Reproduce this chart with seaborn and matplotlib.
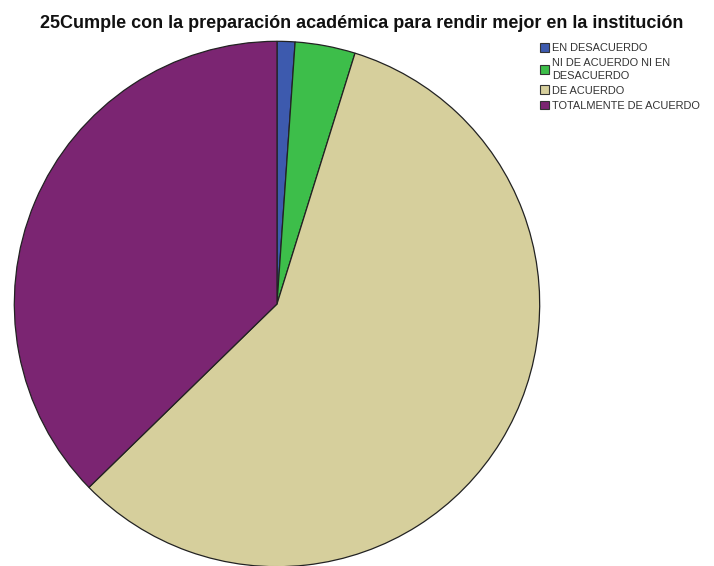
import matplotlib
matplotlib.use("Agg")
import matplotlib.pyplot as plt
import seaborn as sns
from matplotlib.patches import Patch

sns.set_theme(style="white")
plt.rcParams["font.family"] = ["Liberation Sans", "DejaVu Sans"]

categories = ["EN DESACUERDO", "NI DE ACUERDO NI EN\nDESACUERDO", "DE ACUERDO", "TOTALMENTE DE ACUERDO"]
percentages = [1.1, 3.7, 57.9, 37.3]
colors = ["#3D5AAE", "#3DBE4A", "#D6CF9C", "#7B2572"]
title = "25Cumple con la preparación académica para rendir mejor en la institución"

fig = plt.figure(figsize=(7.14, 5.66), dpi=100)
W, H = 714, 566
cx, cy, r = 277, 304, 264
ax = fig.add_axes([(cx - r) / W, (H - cy - r) / H, 2 * r / W, 2 * r / H])
ax.pie(percentages, colors=colors, startangle=90, counterclock=False,
       radius=1.0, wedgeprops=dict(edgecolor="#222222", linewidth=0.9))
ax.set_xlim(-1.005, 1.005)
ax.set_ylim(-1.005, 1.005)
ax.set_aspect("equal")
ax.axis("off")

fig.text(362 / W, 1 - 23 / H, title, ha="center", va="center",
         fontsize=13.0, fontweight="bold", color="#111111")

handles = [Patch(facecolor=c, edgecolor="#333333", linewidth=0.8) for c in colors]
leg = fig.legend(handles, categories, loc="upper left", bbox_to_anchor=(540 / W, 1 - 43 / H),
                 frameon=False, fontsize=7.9, handlelength=0.85, handleheight=0.85,
                 handletextpad=0.25, labelspacing=0.45, borderaxespad=0, borderpad=0,
                 labelcolor="#333333")
for t in leg.get_texts():
    t.set_linespacing(1.3)

fig.savefig("out.png", dpi=100)
